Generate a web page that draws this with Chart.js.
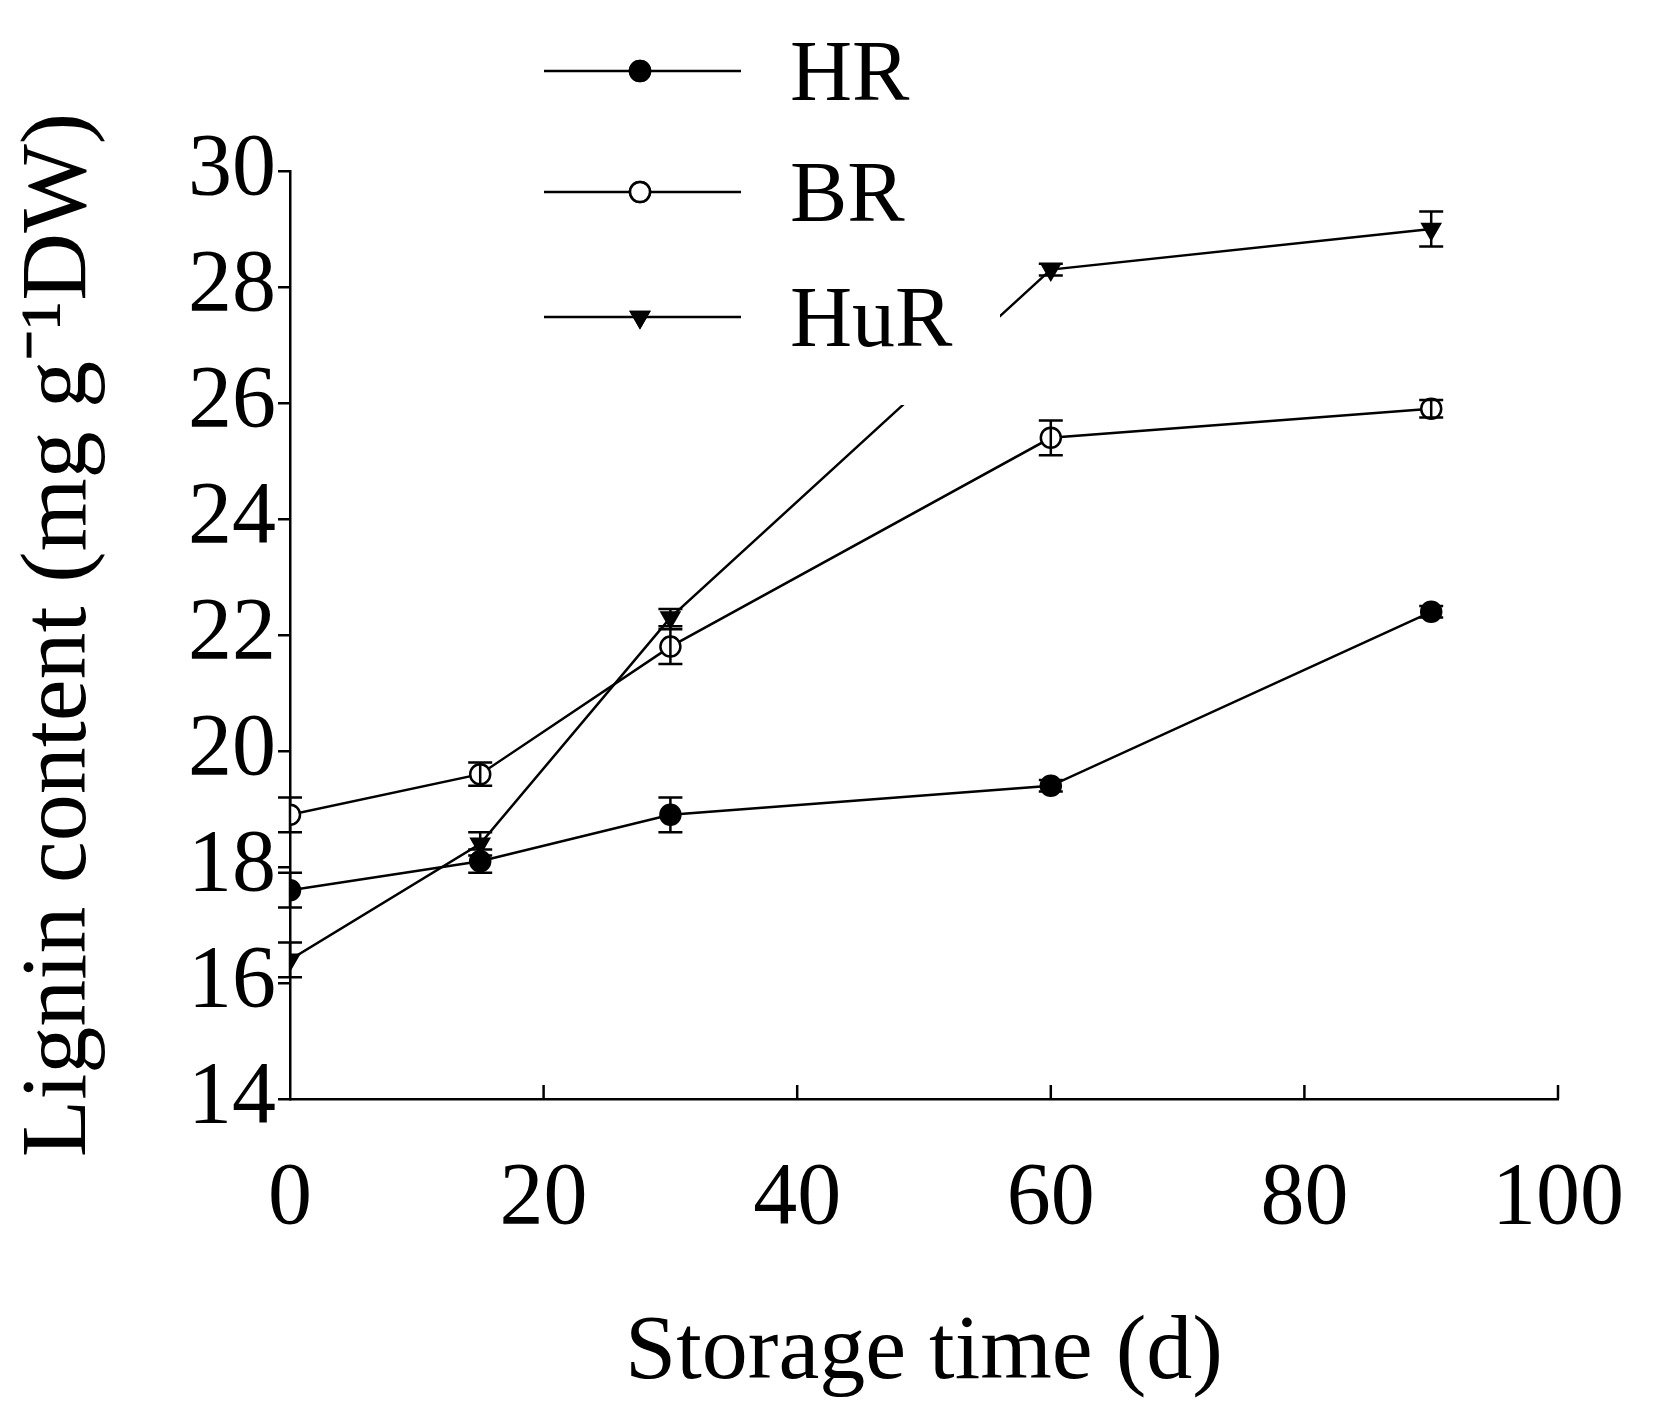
<!DOCTYPE html>
<html>
<head>
<script src="https://cdn.jsdelivr.net/npm/chart.js@4"></script>
<style>body{margin:0;background:#fff}#wrap{width:1664px;height:1413px}</style>
</head>
<body>
<div id="wrap"><canvas id="plot1"></canvas></div>
<script>
var dias = [0, 15, 30, 60, 90];
var hr = [17.6, 18.1, 18.9, 19.4, 22.4];
var hr_err = [0.3, 0.2, 0.3, 0.1, 0.1];
var br = [18.9, 19.6, 21.8, 25.4, 25.9];
var br_err = [0.3, 0.2, 0.3, 0.3, 0.15];
var hur = [16.4, 18.4, 22.3, 28.3, 29.0];
var hur_err = [0.3, 0.2, 0.15, 0.1, 0.3];
var fonte = '"Liberation Serif", serif';

function pontos(v) { return dias.map(function (d, i) { return {x: d, y: v[i]}; }); }

var barras = {
    id: 'barras',
    afterDatasetsDraw: function (chart) {
        var c = chart.ctx, xs = chart.scales.x, ys = chart.scales.y;
        c.save();
        c.strokeStyle = '#000'; c.lineWidth = 2.5;
        chart.data.datasets.forEach(function (ds) {
            ds.data.forEach(function (p, i) {
                var x = xs.getPixelForValue(p.x);
                var y1 = ys.getPixelForValue(p.y + ds.erro[i]), y2 = ys.getPixelForValue(p.y - ds.erro[i]);
                c.beginPath();
                c.moveTo(x, y1); c.lineTo(x, y2);
                c.moveTo(x - 12, y1); c.lineTo(x + 12, y1);
                c.moveTo(x - 12, y2); c.lineTo(x + 12, y2);
                c.stroke();
            });
        });
        // ticks do eixo x para dentro
        [20, 40, 60, 80, 100].forEach(function (v) {
            var x = xs.getPixelForValue(v);
            c.beginPath(); c.moveTo(x, ys.bottom); c.lineTo(x, ys.bottom - 14); c.stroke();
        });
        // legenda com fundo branco
        c.fillStyle = '#fff';
        c.fillRect(530, 0, 470, 405);
        var itens = [['HR', 71, 'circle', '#000'], ['BR', 192, 'circle', '#fff'], ['HuR', 317, 'triangle', '#000']];
        itens.forEach(function (it) {
            c.strokeStyle = '#000'; c.lineWidth = 2.5;
            c.beginPath(); c.moveTo(544, it[1]); c.lineTo(741, it[1]); c.stroke();
            Chart.helpers.drawPoint(c, {pointStyle: it[2], radius: 10, rotation: it[2] == 'triangle' ? 180 : 0, borderWidth: 2.5}, 640, it[1]);
            c.fillStyle = it[3]; c.fill(); c.stroke();
            c.fillStyle = '#000'; c.font = '86px ' + fonte; c.textBaseline = 'middle';
            c.fillText(it[0], 790, it[1] + 6);
        });
        c.restore();
    }
};

function serie(v, e, estilo, cor, rot) {
    return {data: pontos(v), erro: e, borderColor: '#000', borderWidth: 2.5, pointStyle: estilo,
        pointRotation: rot, pointRadius: 10, pointBackgroundColor: cor, pointBorderColor: '#000', pointBorderWidth: 2.5};
}

new Chart(document.getElementById('plot1'), {
    type: 'line',
    data: {datasets: [serie(hr, hr_err, 'circle', '#000', 0), serie(br, br_err, 'circle', '#fff', 0), serie(hur, hur_err, 'triangle', '#000', 180)]},
    options: {
        responsive: true, maintainAspectRatio: false, animation: false,
        layout: {padding: {top: 171, right: 90, left: 0, bottom: 0}},
        plugins: {legend: {display: false}, tooltip: {enabled: false}},
        scales: {
            x: {type: 'linear', min: 0, max: 100,
                afterFit: function (s) { s.height = 314; },
                ticks: {stepSize: 20, color: '#000', padding: 40, font: {family: fonte, size: 88}},
                grid: {display: false}, border: {color: '#000', width: 2.5},
                title: {display: true, text: 'Storage time (d)', color: '#000', padding: {top: 10}, font: {family: fonte, size: 92}}},
            y: {min: 14, max: 30,
                afterFit: function (s) { s.width = 290; },
                ticks: {stepSize: 2, color: '#000', padding: 2, font: {family: fonte, size: 88}},
                grid: {drawOnChartArea: false, tickLength: 12, color: '#000', lineWidth: 2.5}, border: {color: '#000', width: 2.5},
                title: {display: true, text: 'Lignin content (mg g\u207B\u00B9DW)', color: '#000', padding: {bottom: 0}, font: {family: fonte, size: 94}}}
        }
    },
    plugins: [barras]
});
</script>
</body>
</html>
